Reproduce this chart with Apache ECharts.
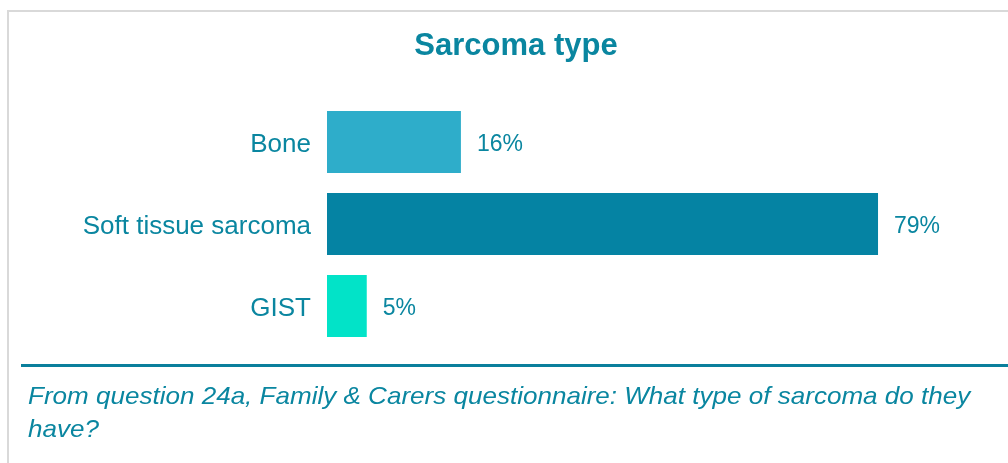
<!DOCTYPE html>
<html>
<head>
<meta charset="utf-8">
<script src="https://cdn.jsdelivr.net/npm/echarts@6/dist/echarts.min.js"></script>
<style>
  html, body { margin: 0; padding: 0; background: #fff; }
  #chart { width: 1008px; height: 463px; }
</style>
</head>
<body>
<div id="chart"></div>
<script>
// categories, top to bottom
var categories = ['Bone', 'Soft tissue sarcoma', 'GIST'];
// bar lengths as drawn in the picture (percent scale)
var barValues = [19.2, 79, 5.7];
// printed value labels
var valueLabels = ['16%', '79%', '5%'];
var barColors = ['#2eadca', '#0583a3', '#02e3c8'];
var caption = 'From question 24a, Family & Carers questionnaire: What type of sarcoma do they\nhave?';

var teal = '#0a86a0';
var font = '"Liberation Sans", Arial, sans-serif';

var chart = echarts.init(document.getElementById('chart'), null, { renderer: 'canvas' });

var data = [];
for (var i = 0; i < categories.length; i++) {
    data.push({
        value: barValues[i],
        label: { formatter: valueLabels[i] },
        itemStyle: { color: barColors[i] }
    });
}

var option = {
    backgroundColor: '#fff',
    animation: false,
    title: {
        text: 'Sarcoma type',
        left: 511,
        textAlign: 'center',
        top: 26,
        textStyle: { color: teal, fontFamily: font, fontSize: 31, fontWeight: 'bold' }
    },
    grid: { left: 327, top: 101, width: 558, height: 246 },
    xAxis: {
        type: 'value',
        min: 0,
        max: 80,
        show: false
    },
    yAxis: {
        type: 'category',
        data: categories,
        inverse: true,
        axisLine: { show: false },
        axisTick: { show: false },
        axisLabel: { color: teal, fontFamily: font, fontSize: 26, margin: 16,
                     verticalAlign: 'top', lineHeight: 6 }
    },
    series: [{
        type: 'bar',
        data: data,
        barWidth: 62,
        label: {
            show: true,
            position: 'right',
            distance: 16,
            offset: [0, 3],
            color: teal,
            fontFamily: font,
            fontSize: 23
        }
    }],
    graphic: [
        // outer frame (top and left edges visible)
        { type: 'rect', shape: { x: 8, y: 11, width: 1100, height: 500 },
          style: { fill: 'none', stroke: '#d9d9d9', lineWidth: 2 }, silent: true },
        // divider above the note
        { type: 'rect', shape: { x: 21, y: 364, width: 1000, height: 3 },
          style: { fill: '#0a7f9c' }, silent: true },
        { type: 'text', x: 28, y: 381, scaleX: 1.085,
          style: { text: caption, fill: teal, fontFamily: font, fontSize: 24,
                   fontStyle: 'italic', lineHeight: 33 } }
    ]
};
chart.setOption(option);
</script>
</body>
</html>
